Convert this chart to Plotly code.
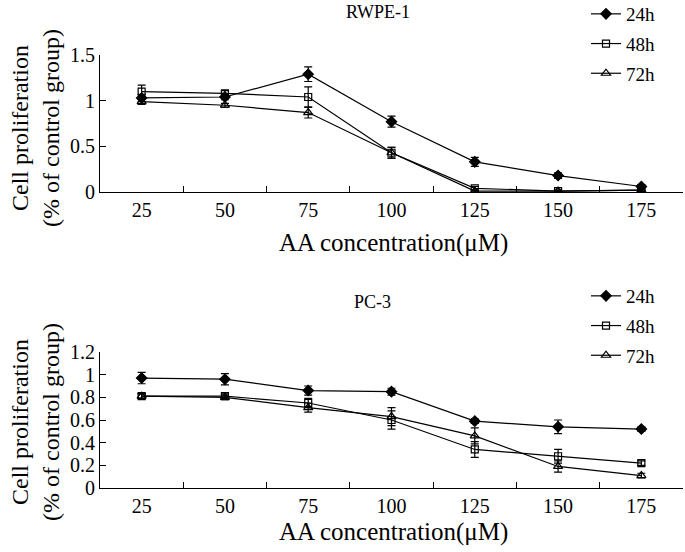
import plotly.graph_objects as go

concentrations = ["25", "50", "75", "100", "125", "150", "175"]
series_names = ["24h", "48h", "72h"]

# RWPE-1
rwpe_24 = [1.03, 1.04, 1.29, 0.77, 0.33, 0.18, 0.06]
rwpe_24_err = [0.04, 0.03, 0.08, 0.06, 0.05, 0.03, 0.02]
rwpe_48 = [1.10, 1.08, 1.04, 0.43, 0.04, 0.01, 0.02]
rwpe_48_err = [0.07, 0.03, 0.11, 0.06, 0.02, 0.01, 0.01]
rwpe_72 = [0.99, 0.95, 0.87, 0.43, 0.01, 0.01, 0.02]
rwpe_72_err = [0.03, 0.02, 0.06, 0.06, 0.01, 0.01, 0.01]

# PC-3
pc3_24 = [0.97, 0.96, 0.86, 0.85, 0.59, 0.54, 0.52]
pc3_24_err = [0.05, 0.05, 0.04, 0.03, 0.02, 0.06, 0.02]
pc3_48 = [0.81, 0.81, 0.75, 0.60, 0.34, 0.28, 0.22]
pc3_48_err = [0.02, 0.02, 0.04, 0.08, 0.07, 0.06, 0.02]
pc3_72 = [0.81, 0.80, 0.71, 0.63, 0.46, 0.19, 0.11]
pc3_72_err = [0.02, 0.02, 0.04, 0.08, 0.07, 0.05, 0.02]

FONT = "Liberation Serif"
symbols = ["diamond", "square-open", "triangle-up-open"]
sizes = [8, 7, 8]

fig = go.Figure()

top = [(rwpe_24, rwpe_24_err), (rwpe_48, rwpe_48_err), (rwpe_72, rwpe_72_err)]
bot = [(pc3_24, pc3_24_err), (pc3_48, pc3_48_err), (pc3_72, pc3_72_err)]

for i, (vals, errs) in enumerate(top):
    fig.add_trace(go.Scatter(
        x=concentrations, y=vals, name=series_names[i], mode="lines+markers",
        legendgroup="t" + series_names[i],
        line=dict(color="black", width=1.2),
        marker=dict(symbol=symbols[i], size=sizes[i], color="black",
                    line=dict(color="black", width=1.2)),
        error_y=dict(type="data", array=errs, color="black", thickness=1.2, width=4),
        xaxis="x", yaxis="y", legend="legend"))

for i, (vals, errs) in enumerate(bot):
    fig.add_trace(go.Scatter(
        x=concentrations, y=vals, name=series_names[i], mode="lines+markers",
        legendgroup="b" + series_names[i],
        line=dict(color="black", width=1.2),
        marker=dict(symbol=symbols[i], size=sizes[i], color="black",
                    line=dict(color="black", width=1.2)),
        error_y=dict(type="data", array=errs, color="black", thickness=1.2, width=4),
        xaxis="x2", yaxis="y2", legend="legend2"))

W, H = 685, 552
def py(pix):
    return 1 - pix / H

axis_common = dict(showline=True, linecolor="black", linewidth=1.2, ticks="inside",
                   ticklen=6, tickcolor="black", tickwidth=1.2, showgrid=False,
                   zeroline=False, tickfont=dict(family=FONT, size=20, color="black"))

legend_common = dict(font=dict(family=FONT, size=19, color="black"),
                     bgcolor="rgba(0,0,0,0)", xanchor="left", yanchor="top",
                     tracegroupgap=2, itemwidth=30)

fig.update_layout(
    width=W, height=H, margin=dict(l=100, r=2, t=0, b=0, autoexpand=False),
    paper_bgcolor="white", plot_bgcolor="white",
    font=dict(family=FONT, color="black"),
    xaxis=dict(type="category", range=[-0.5, 6.5], tickson="boundaries",
               domain=[0, 1], anchor="y", **axis_common),
    yaxis=dict(range=[0, 1.5], tickvals=[0, 0.5, 1, 1.5], ticktext=["0", "0.5", "1", "1.5"],
               domain=[py(192), py(55)], anchor="x", **axis_common),
    xaxis2=dict(type="category", range=[-0.5, 6.5], tickson="boundaries",
                domain=[0, 1], anchor="y2", **axis_common),
    yaxis2=dict(range=[0, 1.2], tickvals=[0, 0.2, 0.4, 0.6, 0.8, 1, 1.2],
                ticktext=["0", "0.2", "0.4", "0.6", "0.8", "1", "1.2"],
                domain=[py(488), py(352)], anchor="x2", **axis_common),
    legend=dict(x=(586 - 100) / 583, y=py(-5), xref="paper", yref="paper", **legend_common),
    legend2=dict(x=(586 - 100) / 583, y=py(277), xref="paper", yref="paper", **legend_common),
)

def ann(text, x, y, size, angle=0):
    fig.add_annotation(text=text, x=(x - 100) / 583, y=py(y), xref="paper", yref="paper",
                       showarrow=False, textangle=angle, xanchor="center", yanchor="middle",
                       font=dict(family=FONT, size=size, color="black"))

ann("RWPE-1", 378, 12, 18)
ann("PC-3", 372, 302, 18)
ann("AA concentration(μM)", 393, 243, 25)
ann("AA concentration(μM)", 393, 532, 25)
ann("Cell proliferation<br>(% of control group)", 35, 128, 24, -90)
ann("Cell proliferation<br>(% of control group)", 35, 422, 24, -90)

fig.write_html("out.html", config={"displayModeBar": False},
               post_script="document.body.style.margin='0';")
